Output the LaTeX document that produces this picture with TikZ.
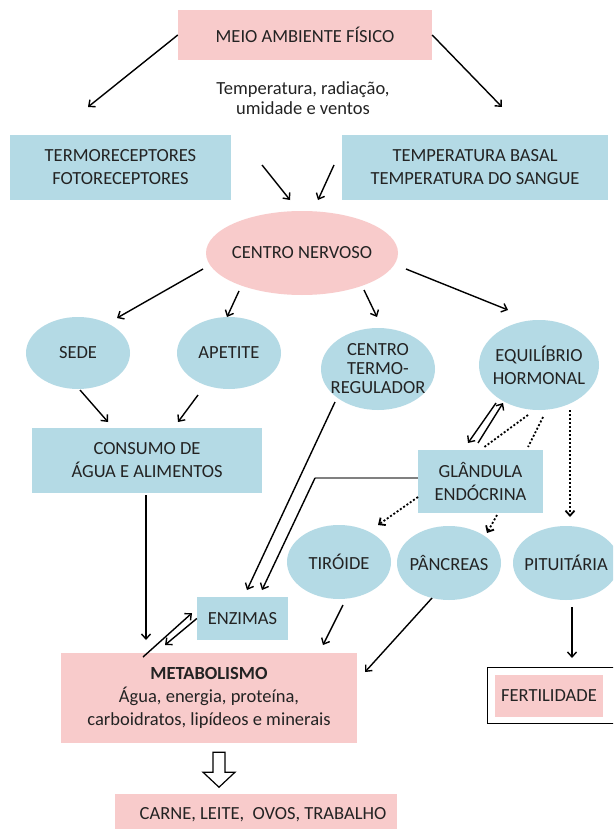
\documentclass[tikz,border=0pt]{standalone}
\usepackage{fontspec}
\setmainfont{Carlito}
\usetikzlibrary{shapes.geometric}
\usetikzlibrary{arrows.meta}
\definecolor{rosa}{RGB}{248,203,203}
\definecolor{azul}{RGB}{180,218,229}
\definecolor{tinta}{RGB}{35,35,35}

\begin{document}
\begin{tikzpicture}[x=1pt,y=-1pt, font=\fontsize{18.5}{23}\selectfont, text=tinta,
  caixa/.style={rectangle, fill=#1, inner sep=0pt, align=center},
  bolha/.style={ellipse, fill=azul, inner sep=-12pt, align=center},
  seta/.style={-{Straight Barb[length=5pt,width=9pt]}, line width=1.4pt},
  pontos/.style={seta, dash pattern=on 2pt off 2pt, line width=1.8pt},
  pontilhado/.style={dash pattern=on 2pt off 2pt, line width=1.8pt}]
  \clip (0,0) rectangle (613,829);
  \fill[white] (0,0) rectangle (613,829);

  \node[caixa=rosa, minimum width=254, minimum height=50] (meio) at (305,35) {MEIO AMBIENTE FÍSICO};
  \node[align=center, font=\fontsize{18.5}{20}\selectfont] (fatores) at (303,98) {Temperatura, radiação,\\umidade e ventos};
  \node[caixa=azul, minimum width=221, minimum height=65] (receptores) at (120.5,167.5) {TERMORECEPTORES\\FOTORECEPTORES};
  \node[caixa=azul, minimum width=266, minimum height=65] (basal) at (475,167.5) {TEMPERATURA BASAL\\TEMPERATURA DO SANGUE};
  \node[bolha, fill=rosa, minimum width=192, minimum height=84] (nervoso) at (302,253) {CENTRO NERVOSO};
  \node[bolha, minimum width=104, minimum height=72] (sede) at (78,353) {SEDE};
  \node[bolha, minimum width=104, minimum height=72] (apetite) at (229,353) {APETITE};
  \node[bolha, minimum width=114, minimum height=82, font=\fontsize{18.5}{19}\selectfont] (termo) at (378,369) {CENTRO\\TERMO-\\REGULADOR};
  \node[bolha, minimum width=120, minimum height=90] (hormonal) at (539,365) {EQUILÍBRIO\\HORMONAL};
  \node[caixa=azul, minimum width=230, minimum height=65] (consumo) at (147,460.5) {CONSUMO DE\\ÁGUA E ALIMENTOS};
  \node[caixa=azul, minimum width=125, minimum height=63] (glandula) at (480.5,481.5) {GLÂNDULA\\ENDÓCRINA};
  \node[bolha, minimum width=104, minimum height=74] (tiroide) at (339,562) {TIRÓIDE};
  \node[bolha, minimum width=104, minimum height=74] (pancreas) at (449,563) {PÂNCREAS};
  \node[bolha, minimum width=106, minimum height=74] (pituitaria) at (566,563) {PITUITÁRIA};
  \node[caixa=azul, minimum width=91, minimum height=43] (enzimas) at (242.5,618.5) {ENZIMAS};
  \node[caixa=rosa, minimum width=296, minimum height=90] (metab) at (209,698) {\textbf{METABOLISMO}\\Água, energia, proteína,\\carboidratos, lipídeos e minerais};
  \node[caixa=rosa, minimum width=108, minimum height=42] (fert) at (549,696) {FERTILIDADE};
  \node[caixa=rosa, minimum width=282, minimum height=42] (produtos) at (256,815) {\hspace*{14pt}CARNE, LEITE,~ OVOS, TRABALHO};
  \draw[line width=1pt] ([shift={(-7,-7)}]fert.north west) rectangle ([shift={(40,6)}]fert.south east);

  % meio ambiente e centro nervoso
  \draw[seta] (meio.west) -- ([shift={(-32.5,-60.5)}]receptores.center);
  \draw[seta] (meio.east) -- ([shift={(27,-60.5)}]basal.center);
  \draw[seta] ([shift={(141.5,-2.5)}]receptores.center) -- ([shift={(-12,-53)}]nervoso.center);
  \draw[seta] ([shift={(-141,-2.5)}]basal.center) -- ([shift={(16,-53)}]nervoso.center);
  \draw[seta] ([shift={(-99,16)}]nervoso.center) -- ([shift={(39,-35)}]sede.center);
  \draw[seta] ([shift={(-63,38)}]nervoso.center) -- ([shift={(-2,-36)}]apetite.center);
  \draw[seta] ([shift={(62,37)}]nervoso.center) -- ([shift={(-1,-52)}]termo.center);
  \draw[seta] ([shift={(104,16)}]nervoso.center) -- ([shift={(-31,-55)}]hormonal.center);
  % consumo e enzimas
  \draw[seta] ([shift={(2,37)}]sede.center) -- ([shift={(-39,-38.5)}]consumo.center);
  \draw[seta] ([shift={(-31,42)}]apetite.center) -- ([shift={(31,-38.5)}]consumo.center);
  \draw[seta] ([shift={(-1,34.5)}]consumo.center) -- ([shift={(-63,-58)}]metab.center);
  \draw[seta] ([shift={(-43,33)}]termo.center) -- ([shift={(4.5,-28.5)}]enzimas.center);
  \draw[gray, line width=1.4pt] ([shift={(-62.5,-3.5)}]glandula.center) -- ++(-103,0) coordinate (dobra);
  \draw[seta] (dobra) -- ([shift={(19.5,-28.5)}]enzimas.center);
  % equilibrio hormonal
  \draw[seta] ([shift={(-2.5,-38.5)}]glandula.center) -- ([shift={(-36,38)}]hormonal.center);
  \draw[seta] ([shift={(-43,38)}]hormonal.center) -- ([shift={(-12.5,-38.5)}]glandula.center);
  \draw[pontilhado] ([shift={(-11,50)}]hormonal.center) -- ([shift={(2.5,-33.5)}]glandula.center);
  \draw[pontilhado] ([shift={(4,52)}]hormonal.center) -- ([shift={(47.5,-34.5)}]glandula.center);
  \draw[pontos] ([shift={(31,45)}]hormonal.center) -- ([shift={(4,-46)}]pituitaria.center);
  \draw[pontos] ([shift={(-62.5,15.5)}]glandula.center) -- ([shift={(39,-37)}]tiroide.center);
  \draw[pontos] ([shift={(16.5,33.5)}]glandula.center) -- ([shift={(38,-30)}]pancreas.center);
  % metabolismo
  \draw[seta] ([shift={(4,43)}]tiroide.center) -- ([shift={(114,-53)}]metab.center);
  \draw[seta] ([shift={(-17,35)}]pancreas.center) -- ([shift={(156,-26)}]metab.center);
  \draw[seta] ([shift={(6,44)}]pituitaria.center) -- ([shift={(23,-38)}]fert.center);
  \draw[seta] ([shift={(-66,-41)}]metab.center) -- ([shift={(-50.5,-5.5)}]enzimas.center);
  \draw[seta] (enzimas.west) -- ([shift={(-44,-53)}]metab.center);
  \draw[line width=1.2pt, fill=white] ([shift={(4,9)}]metab.south) -- ++(0,20) -- ++(-10,0) -- ++(16,15)
    -- ++(16,-15) -- ++(-10,0) -- ++(0,-20) -- cycle;
\end{tikzpicture}
\end{document}
